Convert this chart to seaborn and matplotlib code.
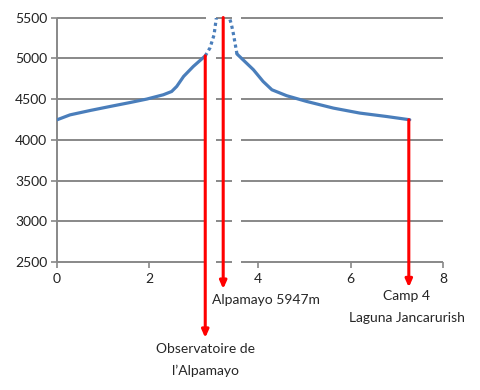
import numpy as np
import pandas as pd
import matplotlib
matplotlib.use("Agg")
import matplotlib.pyplot as plt
import seaborn as sns

# ---- data ----
left_x = [0.0, 0.28, 0.72, 1.15, 1.59, 1.95, 2.31, 2.49, 2.60, 2.75, 2.96, 3.22]
left_y = [4246, 4306, 4360, 4409, 4458, 4500, 4553, 4593, 4655, 4778, 4900, 5030]
right_x = [3.575, 3.90, 4.11, 4.30, 4.62, 5.05, 5.63, 6.20, 6.78, 7.28]
right_y = [5053, 4860, 4716, 4614, 4541, 4471, 4389, 4328, 4286, 4246]
dot_left_x = [3.22, 3.31, 3.35, 3.37, 3.39]
dot_left_y = [5030, 5127, 5286, 5470, 5650]
dot_right_x = [3.575, 3.54, 3.52, 3.50, 3.48]
dot_right_y = [5053, 5300, 5420, 5500, 5650]

x_ticks = [0, 2, 4, 6, 8]
y_ticks = [2500, 3000, 3500, 4000, 4500, 5000, 5500]

# annotations: arrow x, arrow top, arrow bottom
arrow_x = [3.22, 3.44, 7.26]
arrow_top = [5030, 5500, 4246]
arrow_bottom = [1570, 2170, 2190]

# text labels: (text, x, y)
label_text = ["Observatoire de", "l\u2019Alpamayo", "Alpamayo 5947m", "Camp 4", "Laguna Jancarurish"]
label_x = [3.22, 3.22, 4.17, 7.22, 7.22]
label_y = [1430, 1165, 2040, 2085, 1810]

# broken gridline segments (x ranges)
grid_segments = [(0, 3.24), (3.37, 3.53), (3.635, 8)]

# ---- style ----
sns.set_style("white")
plt.rcParams["font.family"] = ["Lato", "DejaVu Sans"]

fig = plt.figure(figsize=(4.8, 3.9), dpi=100)
ax = fig.add_axes([0.119, 0.328, 0.804, 0.627])

X_br = [-1, 3.3, 3.6, 9]
U_br = [-1, 3.3, 3.965, 9.395]
fwd = lambda x: np.interp(x, X_br, U_br)
inv = lambda u: np.interp(u, U_br, X_br)
ax.set_xscale("function", functions=(fwd, inv))
ax.set_xlim(0, 8)
ax.set_ylim(2500, 5500)

grid_col = "#888888"
for yv in y_ticks:
    for a, b in grid_segments:
        ax.hlines(yv, a, b, color=grid_col, lw=1.4, zorder=1, clip_on=False)
ax.vlines(0, 2500, 5500, color=grid_col, lw=1.4, zorder=1, clip_on=False)

blue = "#4A7EBB"
df_l = pd.DataFrame({"x": left_x, "y": left_y})
df_r = pd.DataFrame({"x": right_x, "y": right_y})
sns.lineplot(data=df_l, x="x", y="y", ax=ax, color=blue, lw=2.3, sort=False, zorder=3)
sns.lineplot(data=df_r, x="x", y="y", ax=ax, color=blue, lw=2.3, sort=False, zorder=3)
sns.lineplot(x=dot_left_x, y=dot_left_y, ax=ax, color=blue, lw=2.3, sort=False,
             linestyle=(0, (1, 1)), zorder=3)
sns.lineplot(x=dot_right_x, y=dot_right_y, ax=ax, color=blue, lw=2.3, sort=False,
             linestyle=(0, (1, 1)), zorder=3)
for line in ax.lines:
    line.set_dash_capstyle("butt")

for s in ax.spines.values():
    s.set_visible(False)

ax.set_xticks(x_ticks)
ax.set_yticks(y_ticks)
ax.set_xticklabels([str(v) for v in x_ticks])
ax.set_yticklabels([str(v) for v in y_ticks])
ax.tick_params(axis="both", which="both", direction="out", length=4, width=1.2,
               color=grid_col, labelsize=10, labelcolor="#222222", pad=3)
ax.tick_params(axis="x", bottom=True, pad=4)
ax.tick_params(axis="y", left=True)
ax.set_xlabel("")
ax.set_ylabel("")
ax.minorticks_off()

red = "#FF0000"
for xv, t, b in zip(arrow_x, arrow_top, arrow_bottom):
    ax.annotate("", xy=(xv, b), xytext=(xv, t), xycoords="data",
                arrowprops=dict(arrowstyle="-|>,head_length=0.45,head_width=0.2",
                                color=red, lw=2.2, shrinkA=0, shrinkB=0),
                annotation_clip=False, zorder=4)

for txt, xv, yv in zip(label_text, label_x, label_y):
    ax.text(xv, yv, txt, ha="center", va="center", fontsize=10, clip_on=False)

fig.savefig("out.png", dpi=100, facecolor="white")
